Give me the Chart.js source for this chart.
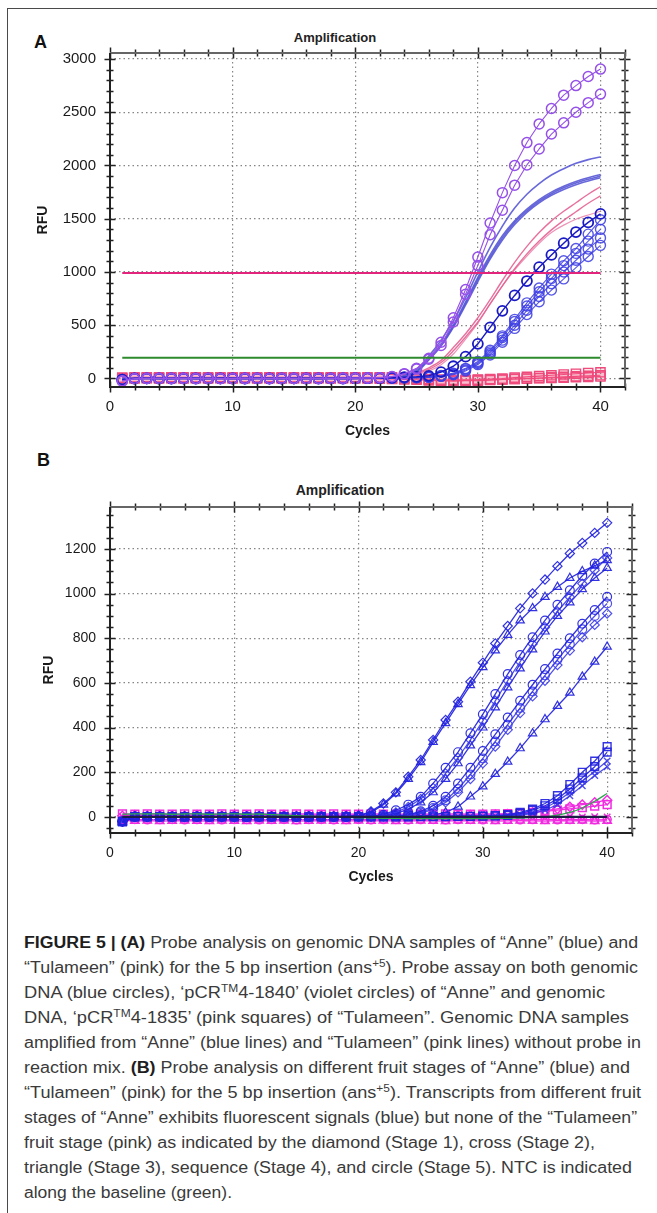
<!DOCTYPE html>
<html><head><meta charset="utf-8">
<script src="https://cdn.jsdelivr.net/npm/chart.js@4.4.1/dist/chart.umd.min.js"></script>
<style>
 body{margin:0;background:#fff;}
 #wrap{position:relative;width:657px;height:1213px;overflow:hidden;background:#fff;font-family:"Liberation Sans",Arial,sans-serif;}
 .frame{position:absolute;left:7px;top:8px;width:700px;height:1300px;border-left:1px solid #4a4a4a;border-top:1px solid #4a4a4a;}
 .panel{position:absolute;font-weight:bold;font-size:18px;color:#111;line-height:20px;}
 .ttl{position:absolute;width:240px;text-align:center;font-weight:bold;color:#222;line-height:16px;}
 canvas{position:absolute;left:0;}
 .cap{position:absolute;left:24px;white-space:nowrap;font-size:16px;line-height:25px;height:25px;color:#3a3a3a;transform-origin:0 50%;}
 .cap b{color:#1e1e1e;}
 .cap sup{font-size:10.5px;line-height:0;vertical-align:6px;}
</style></head>
<body>
<div id="wrap">
  <div class="frame"></div>
  <div class="panel" style="left:34px;top:32px;">A</div>
  <div class="ttl" style="left:215px;top:30px;font-size:13px;">Amplification</div>
  <canvas id="chartA" width="657" height="445" style="top:0;"></canvas>
  <div class="panel" style="left:37px;top:450px;">B</div>
  <div class="ttl" style="left:220px;top:482px;font-size:14px;">Amplification</div>
  <canvas id="chartB" width="657" height="450" style="top:450px;"></canvas>
  <div id="caption"></div>
</div>
<script>
// ---------------- DATA ----------------
const cycles = [1,2,3,4,5,6,7,8,9,10,11,12,13,14,15,16,17,18,19,20,21,22,23,24,25,26,27,28,29,30,31,32,33,34,35,36,37,38,39,40];
const xTicks = [0,10,20,30,40];
const yTicksA = [0,500,1000,1500,2000,2500,3000];
const yTicksB = [0,200,400,600,800,1000,1200];

// Panel A: thresholds
const thresholdPinkA = 990;
const thresholdGreenA = 195;
// Panel A: pCR4-1840 (violet circles)
const violetA1 = [-25,-2,0,1,0,1,0,0,-1,0,1,0,0,1,0,0,1,0,2,3,5,8,18,45,95,190,340,570,835,1140,1460,1745,2000,2215,2390,2535,2660,2750,2835,2905];
const violetA2 = [-22,-1,1,0,1,0,0,1,0,-1,0,1,0,0,1,0,0,1,1,2,4,7,16,42,88,180,310,530,790,1060,1350,1580,1815,2005,2155,2295,2400,2500,2590,2670];
// Panel A: genomic DNA "Anne" (blue circles)
const blueCircA1 = [-12,0,1,0,0,1,0,0,1,0,0,1,0,0,1,0,0,1,0,2,3,5,8,12,16,25,60,115,205,325,480,635,780,915,1045,1160,1270,1375,1465,1545];
const blueCircA2 = [-10,1,0,1,0,0,1,0,0,1,0,0,1,0,0,1,0,0,1,1,2,3,5,7,10,15,28,50,95,160,265,400,555,710,850,980,1105,1220,1355,1490];
const blueCircA3 = [-11,0,1,0,1,0,0,1,0,0,1,0,0,1,0,0,1,0,0,1,2,3,4,6,9,14,25,45,90,150,250,385,535,680,815,940,1060,1175,1290,1400];
const blueCircA4 = [-9,1,0,0,1,0,1,0,0,1,0,1,0,0,1,0,1,0,0,1,1,2,4,6,8,12,22,40,80,140,235,360,500,640,770,890,1000,1110,1215,1320];
const blueCircA5 = [-13,0,0,1,0,0,1,0,1,0,0,1,0,1,0,0,1,0,1,1,1,2,3,5,7,10,20,35,70,130,220,340,470,600,720,830,935,1040,1145,1250];
// Panel A: "Anne" without probe (blue lines)
const blueLineA1 = [0,0,0,0,0,0,0,0,0,0,0,0,0,0,0,0,0,0,0,1,2,4,10,25,85,210,360,540,760,1000,1230,1430,1600,1730,1830,1910,1970,2020,2055,2080];
const blueLineA2 = [0,0,0,0,0,0,0,0,0,0,0,0,0,0,0,0,0,0,0,1,2,3,8,20,70,185,320,500,720,950,1160,1340,1480,1590,1680,1750,1805,1850,1885,1915];
const blueLineA3 = [0,0,0,0,0,0,0,0,0,0,0,0,0,0,0,0,0,0,0,1,2,3,7,18,65,180,312,490,705,930,1140,1320,1465,1575,1665,1735,1790,1835,1870,1900];
const blueLineA4 = [0,0,0,0,0,0,0,0,0,0,0,0,0,0,0,0,0,0,0,1,1,3,6,16,60,175,305,480,690,910,1120,1300,1445,1560,1650,1720,1775,1820,1855,1885];
// Panel A: "Tulameen" without probe (pink lines)
const pinkLineA1 = [0,0,0,0,0,0,0,0,0,0,0,0,0,0,0,0,0,0,0,0,0,0,5,20,50,100,170,290,420,570,740,920,1090,1240,1370,1480,1570,1650,1730,1800];
const pinkLineA2 = [0,0,0,0,0,0,0,0,0,0,0,0,0,0,0,0,0,0,0,0,0,0,4,16,42,85,150,260,390,530,700,870,1030,1170,1290,1395,1485,1565,1645,1715];
const pinkLineA3 = [0,0,0,0,0,0,0,0,0,0,0,0,0,0,0,0,0,0,0,0,0,0,3,12,35,70,130,230,370,520,700,870,1020,1150,1270,1370,1440,1495,1535,1570];
// Panel A: "Tulameen" genomic DNA and pCR4-1835 (pink squares)
const pinkSqA1 = [8,10,12,10,12,10,11,10,12,10,11,10,12,10,11,10,10,11,10,12,10,11,10,8,5,-5,-10,-12,-12,-10,-5,0,8,15,22,30,38,45,52,58];
const pinkSqA2 = [2,5,6,5,6,5,6,5,6,5,6,5,5,6,5,6,5,5,6,5,5,4,3,0,-5,-12,-18,-20,-18,-15,-12,-8,-5,0,5,10,15,20,25,30];
const pinkSqA3 = [-5,0,2,1,2,1,2,1,2,1,2,1,2,1,2,1,2,1,2,1,0,-2,-5,-8,-12,-18,-22,-25,-22,-20,-15,-10,-5,-2,2,5,8,12,15,18];

// Panel B: "Anne" fruit stages (blue)
const diamondB1 = [-20,2,0,1,-1,0,1,0,-1,0,1,0,0,1,0,-1,0,1,2,5,25,60,110,180,255,345,434,516,606,691,777,855,934,1001,1063,1123,1180,1227,1272,1317];
const triangleB1 = [-25,0,1,0,0,1,0,-1,0,1,0,0,1,0,0,1,0,0,2,4,20,55,105,170,245,335,420,505,590,670,745,815,880,935,985,1030,1070,1100,1125,1150];
const circleB2 = [-22,1,0,1,0,0,1,0,0,1,0,0,1,0,0,1,0,0,1,2,4,10,30,55,90,150,220,290,375,460,550,640,725,805,880,950,1015,1080,1135,1187];
const diamondB2 = [-18,0,1,0,1,0,0,1,0,0,1,0,0,1,0,0,1,0,1,2,3,8,20,45,80,130,195,265,345,430,520,610,695,775,850,920,985,1045,1105,1160];
const triangleB2 = [-24,1,0,0,1,0,1,0,0,1,0,1,0,0,1,0,0,1,1,2,3,6,15,35,65,110,170,240,320,400,490,580,665,750,830,900,960,1020,1070,1115];
const circleB3 = [-20,0,1,0,0,1,0,0,1,0,0,1,0,0,1,0,0,1,0,1,2,3,5,10,25,50,90,150,220,295,370,445,520,592,662,732,800,865,927,986];
const circleB4 = [-19,1,0,0,1,0,0,1,0,0,1,0,0,1,0,0,1,0,0,1,2,3,4,8,20,40,75,125,190,262,338,413,488,562,634,704,773,840,900,956];
const diamondB3 = [-21,0,0,1,0,0,1,0,0,1,0,0,1,0,0,1,0,0,1,1,1,2,4,7,15,35,65,110,170,240,315,390,465,540,610,680,745,805,860,911];
const triangleB4 = [-23,1,0,1,0,0,1,0,1,0,0,1,0,1,0,0,1,0,1,0,1,2,2,3,4,8,20,46,91,136,192,247,307,374,437,497,556,628,695,762];
const squareB1 = [-20,0,1,0,1,0,0,1,0,1,0,0,1,0,1,0,0,1,0,1,0,1,0,1,2,1,2,3,3,4,6,10,20,35,60,95,145,200,250,315];
const squareB2 = [-22,1,0,1,0,0,1,0,1,0,0,1,0,1,0,0,1,0,1,0,1,0,1,0,1,2,1,2,2,3,4,7,15,30,50,80,125,175,225,290];
const crossB1 = [-18,0,1,0,0,1,0,1,0,0,1,0,1,0,0,1,0,1,0,0,1,0,1,0,1,0,1,2,2,3,4,6,10,20,40,70,110,160,205,250];
const crossB2 = [-16,1,0,0,1,0,1,0,0,1,0,1,0,0,1,0,1,0,0,1,0,1,0,1,0,1,1,2,2,2,3,5,8,15,30,55,95,140,185,225];
// Panel B: "Tulameen" fruit stages (pink / magenta)
const magDiamondB = [5,8,6,8,7,6,8,7,6,8,7,6,7,8,6,7,8,6,7,8,6,7,8,6,7,8,6,7,8,9,10,12,15,20,28,36,45,55,65,75];
const magSquareB = [14,12,14,13,12,14,13,12,14,13,12,14,13,12,14,13,12,14,13,12,14,13,12,14,13,12,14,13,12,13,14,15,17,20,25,30,36,42,48,55];
const magTriangleB = [-16,-18,-17,-19,-18,-17,-18,-19,-17,-18,-19,-17,-18,-17,-19,-18,-17,-18,-19,-17,-18,-17,-19,-18,-17,-18,-19,-17,-18,-17,-19,-18,-17,-18,-19,-17,-18,-17,-19,-18];
const magCircleB = [-12,-11,-13,-12,-11,-13,-12,-11,-13,-12,-11,-13,-12,-11,-13,-12,-11,-13,-12,-11,-13,-12,-11,-13,-12,-11,-13,-12,-11,-13,-12,-11,-13,-12,-11,-13,-12,-11,-13,-12];
const magCrossB = [2,0,1,-1,0,2,1,0,-1,1,0,2,0,1,-1,0,1,2,0,1,0,-1,1,0,2,1,0,-1,1,0,2,0,1,-1,0,1,2,0,1,0];
// Panel B: NTC (green) and baseline
const ntcB = [12,14,13,14,12,13,14,12,13,14,12,13,10,8,6,4,2,0,-2,-4,-5,-6,-6,-7,-7,-8,-8,-8,-8,-8,-7,-6,-5,-3,0,8,20,40,70,105];
const baselineB = 0;

// ---------------- HELPERS ----------------
const FONT = '"Liberation Sans", Arial, sans-serif';
const pts = vals => vals.map((v, i) => ({x: cycles[i], y: v}));
const hpts = v => [{x: cycles[0], y: v}, {x: cycles[cycles.length - 1], y: v}];
function markers(vals, color, style, r, bw, fill, lw) {
  return {data: pts(vals), borderColor: color, borderWidth: lw || 1.1, showLine: true, tension: 0,
    pointStyle: style, pointRadius: r, pointBorderColor: color, pointBorderWidth: bw || 1.2,
    pointBackgroundColor: fill || 'rgba(0,0,0,0)', backgroundColor: 'rgba(0,0,0,0)', fill: false};
}
function plain(vals, color, w) {
  return {data: pts(vals), borderColor: color, borderWidth: w, pointRadius: 0, showLine: true,
    cubicInterpolationMode: 'monotone', fill: false};
}
function hline(v, color, w) {
  return {data: hpts(v), borderColor: color, borderWidth: w, pointRadius: 0, showLine: true, fill: false};
}

const frameTicks = {
  id: 'frameTicks',
  afterDatasetsDraw(chart, args, o) {
    const {ctx, chartArea: a, scales} = chart;
    const xs = scales.x, ys = scales.y, eps = 1e-6;
    const isMaj = (v, m) => Math.abs(v / m - Math.round(v / m)) < eps;
    ctx.save();
    ctx.strokeStyle = o.tickColor;
    ctx.lineWidth = 1.5;
    ctx.beginPath();
    for (let v = Math.ceil(ys.min / o.yMinor) * o.yMinor; v <= ys.max + eps; v += o.yMinor) {
      const p = Math.round(ys.getPixelForValue(v)) + 0.5;
      const L = isMaj(v, o.yMajor) ? 5.5 : 3.5;
      ctx.moveTo(a.left - L, p); ctx.lineTo(a.left + L, p);
      ctx.moveTo(a.right - L, p); ctx.lineTo(a.right + L, p);
    }
    for (let v = Math.ceil(xs.min / o.xMinor) * o.xMinor; v <= xs.max + eps; v += o.xMinor) {
      const p = Math.round(xs.getPixelForValue(v)) + 0.5;
      const L = isMaj(v, o.xMajor) ? 5.5 : 3.5;
      ctx.moveTo(p, a.bottom - L); ctx.lineTo(p, a.bottom + L);
      ctx.moveTo(p, a.top - L); ctx.lineTo(p, a.top + L);
    }
    ctx.stroke();
    ctx.lineWidth = 2;
    ctx.strokeStyle = o.frameColor;
    ctx.beginPath(); ctx.moveTo(a.left, a.top); ctx.lineTo(a.right, a.top); ctx.lineTo(a.right, a.bottom); ctx.stroke();
    ctx.strokeStyle = o.axisColor;
    ctx.beginPath(); ctx.moveTo(a.left, a.top); ctx.lineTo(a.left, a.bottom); ctx.lineTo(a.right, a.bottom); ctx.stroke();
    ctx.restore();
  }
};

function options(c) {
  return {
    responsive: false, animation: false, devicePixelRatio: 1,
    layout: {padding: c.pad},
    plugins: {legend: {display: false}, tooltip: {enabled: false}, title: {display: false},
      frameTicks: {tickColor: '#222', frameColor: '#666', axisColor: '#222',
        yMinor: c.yMinor, yMajor: c.yMajor, xMinor: 2, xMajor: 10}},
    elements: {line: {borderJoinStyle: 'round'}},
    scales: {
      x: {type: 'linear', min: 0, max: 42,
        afterFit: s => { s.height = c.xH; },
        afterBuildTicks: s => { s.ticks = xTicks.map(v => ({value: v})); },
        ticks: {padding: c.xPad, font: {family: FONT, size: c.tick}, color: '#1a1a1a', maxRotation: 0, autoSkip: false, callback: v => String(v)},
        grid: {color: '#858585', lineWidth: 1.2, drawTicks: false},
        border: {display: false, dash: [1.5, 3]},
        title: {display: true, text: 'Cycles', color: '#1a1a1a', font: {family: FONT, size: 14, weight: 'bold'}, padding: {top: 0, bottom: c.cyclesPad}}
      },
      y: {type: 'linear', min: c.yMin, max: c.yMax,
        afterFit: s => { s.width = 110; },
        afterBuildTicks: s => { s.ticks = c.yTicks.map(v => ({value: v})); },
        ticks: {padding: 14, font: {family: FONT, size: c.tick}, color: '#1a1a1a', autoSkip: false, callback: v => String(v)},
        grid: {color: '#858585', lineWidth: 1.2, drawTicks: false},
        border: {display: false, dash: [1.5, 3]},
        title: {display: true, text: 'RFU', color: '#1a1a1a', font: {family: FONT, size: 14, weight: 'bold'}, padding: {top: c.rfuPad, bottom: 0}}
      }
    }
  };
}

// ---------------- CHART A ----------------
const VIOLET = '#9550e8', DBLUE = '#1a1ac4', LBLUE = 'rgba(64,64,228,0.88)';
const BLINE = 'rgba(88,88,214,0.9)', PLINE = 'rgba(228,96,146,0.9)', PSQ = '#ef4a7c';
const dsA = [
  hline(thresholdPinkA, '#e2247c', 2),
  hline(thresholdGreenA, '#2d8a2d', 2),
  markers(violetA1, VIOLET, 'circle', 5, 1.5),
  markers(violetA2, VIOLET, 'circle', 5, 1.5),
  markers(blueCircA1, DBLUE, 'circle', 5, 1.8, null, 1.5),
  markers(blueCircA2, LBLUE, 'circle', 5, 1.4),
  markers(blueCircA3, LBLUE, 'circle', 5, 1.4),
  markers(blueCircA4, LBLUE, 'circle', 5, 1.4),
  markers(blueCircA5, LBLUE, 'circle', 5, 1.4),
  plain(blueLineA1, BLINE, 1.6),
  plain(blueLineA2, BLINE, 1.6),
  plain(blueLineA3, BLINE, 1.6),
  plain(blueLineA4, BLINE, 1.6),
  plain(pinkLineA1, PLINE, 1.4),
  plain(pinkLineA2, PLINE, 1.4),
  plain(pinkLineA3, 'rgba(232,120,165,0.8)', 1.2),
  markers(pinkSqA1, PSQ, 'rect', 6.5, 1.4, 'rgba(240,90,130,0.15)'),
  markers(pinkSqA2, PSQ, 'rect', 6.5, 1.4, 'rgba(240,90,130,0.15)'),
  markers(pinkSqA3, PSQ, 'rect', 6.5, 1.4, 'rgba(240,90,130,0.15)')
];
new Chart(document.getElementById('chartA'), {
  type: 'line', data: {datasets: dsA}, plugins: [frameTicks],
  options: options({pad: {left: 0, right: 32, top: 53, bottom: 0}, xH: 58, xPad: 11, tick: 15,
    cyclesPad: 5.6, rfuPad: 35, yMin: -80, yMax: 3056, yTicks: yTicksA, yMinor: 100, yMajor: 500})
});

// ---------------- CHART B ----------------
const BB = 'rgba(34,34,222,0.92)', BB2 = 'rgba(56,56,232,0.88)', MAG = '#f02ce0';
const dsB = [
  hline(baselineB, '#1c1c44', 2.2),
  plain(ntcB, '#2fa84f', 1.3),
  markers(diamondB1, BB, 'rectRot', 4.6, 1.2, null, 1.3),
  markers(triangleB1, BB, 'triangle', 4.8, 1.2, null, 1.3),
  markers(circleB2, BB, 'circle', 4.4, 1.2, null, 1.3),
  markers(diamondB2, BB2, 'rectRot', 4.6, 1.2, null, 1.3),
  markers(triangleB2, BB, 'triangle', 4.8, 1.2, null, 1.3),
  markers(circleB3, BB, 'circle', 4.4, 1.2, null, 1.3),
  markers(circleB4, BB2, 'circle', 4.4, 1.2, null, 1.3),
  markers(diamondB3, BB2, 'rectRot', 4.6, 1.2, null, 1.3),
  markers(triangleB4, BB, 'triangle', 4.8, 1.2, null, 1.3),
  markers(squareB1, BB, 'rect', 5.5, 1.4, null, 1.3),
  markers(squareB2, BB, 'rect', 5.5, 1.4, null, 1.3),
  markers(crossB1, BB2, 'crossRot', 4.6, 1.4, null, 1.3),
  markers(crossB2, BB2, 'crossRot', 4.6, 1.4, null, 1.3),
  markers(magDiamondB, MAG, 'rectRot', 4.6, 1.5, null, 1.3),
  markers(magSquareB, MAG, 'rect', 5.5, 1.5, null, 1.3),
  markers(magTriangleB, MAG, 'triangle', 4.8, 1.5, null, 1.3),
  markers(magCircleB, MAG, 'circle', 4, 1.5, null, 1.3),
  markers(magCrossB, MAG, 'crossRot', 4.6, 1.5, null, 1.3)
];
new Chart(document.getElementById('chartB'), {
  type: 'line', data: {datasets: dsB}, plugins: [frameTicks],
  options: options({pad: {left: 0, right: 25, top: 57, bottom: 0}, xH: 67, xPad: 11.5, tick: 14,
    cyclesPad: 14.6, rfuPad: 40.6, yMin: -72, yMax: 1388, yTicks: yTicksB, yMinor: 50, yMajor: 200})
});

// ---------------- CAPTION ----------------
const captionLines = [
  '<b>FIGURE 5 | (A)</b> Probe analysis on genomic DNA samples of \u201cAnne\u201d (blue) and',
  '\u201cTulameen\u201d (pink) for the 5 bp insertion (ans<sup>+5</sup>). Probe assay on both genomic',
  'DNA (blue circles), \u2018pCR<sup>TM</sup>4-1840\u2019 (violet circles) of \u201cAnne\u201d and genomic',
  'DNA, \u2018pCR<sup>TM</sup>4-1835\u2019 (pink squares) of \u201cTulameen\u201d. Genomic DNA samples',
  'amplified from \u201cAnne\u201d (blue lines) and \u201cTulameen\u201d (pink lines) without probe in',
  'reaction mix. <b>(B)</b> Probe analysis on different fruit stages of \u201cAnne\u201d (blue) and',
  '\u201cTulameen\u201d (pink) for the 5 bp insertion (ans<sup>+5</sup>). Transcripts from different fruit',
  'stages of \u201cAnne\u201d exhibits fluorescent signals (blue) but none of the \u201cTulameen\u201d',
  'fruit stage (pink) as indicated by the diamond (Stage 1), cross (Stage 2),',
  'triangle (Stage 3), sequence (Stage 4), and circle (Stage 5). NTC is indicated',
  'along the baseline (green).'
];
const lineRight = [638, 638, 605, 629, 641, 630, 641, 637, 595, 632, 232];
const cap = document.getElementById('caption');
captionLines.forEach((h, i) => {
  const d = document.createElement('div');
  d.className = 'cap';
  d.style.top = (929.5 + 25 * i) + 'px';
  d.innerHTML = h;
  cap.appendChild(d);
  const w = d.getBoundingClientRect().width;
  d.style.transform = 'scaleX(' + ((lineRight[i] - 24) / w).toFixed(4) + ')';
});
</script>
</body></html>
